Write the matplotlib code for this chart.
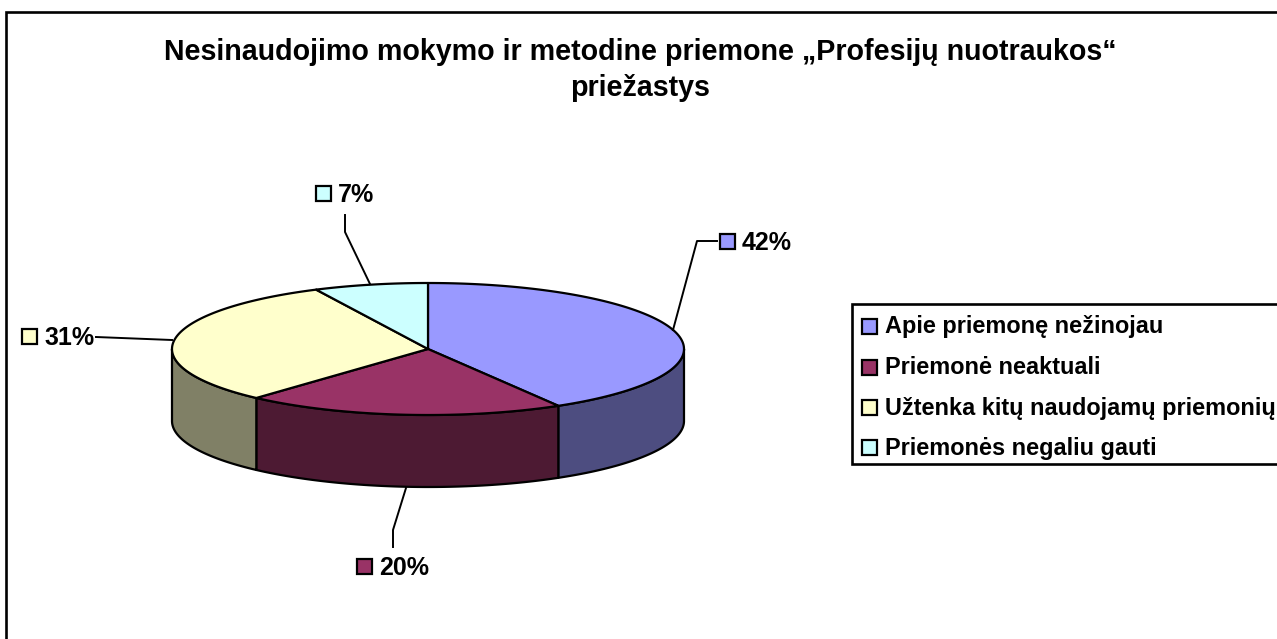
import numpy as np
import matplotlib
matplotlib.use("Agg")
import matplotlib.pyplot as plt
from matplotlib.patches import Rectangle

plt.rcParams['font.family'] = ['Liberation Sans', 'DejaVu Sans']
plt.rcParams['font.weight'] = 'bold'

title = "Nesinaudojimo mokymo ir metodine priemone „Profesijų nuotraukos“\npriežastys"
categories = ["Apie priemonę nežinojau", "Priemonė neaktuali",
              "Užtenka kitų naudojamų priemonių", "Priemonės negaliu gauti"]
values = [41.5, 20.2, 31.1, 7.2]
top_colors = ["#9999FF", "#993366", "#FFFFCC", "#CCFFFF"]
side_colors = ["#4D4D80", "#4D1A33", "#808066", "#668080"]

W, H = 1277, 639
fig = plt.figure(figsize=(W / 100, H / 100), dpi=100, facecolor="white")
ax = fig.add_axes([0, 0, 1, 1])
ax.set_xlim(0, W)
ax.set_ylim(H, 0)
ax.axis("off")

LW = 1.6
cx, cy, rx, ry, depth = 428, 349, 256, 66, 72

# outer chart frame (right and bottom edges fall outside the picture)
ax.plot([6, 6, W + 5], [H + 5, 12, 12], color="black", lw=1.9, solid_joinstyle="miter")


def pt(theta):
    return cx + rx * np.cos(theta), cy + ry * np.sin(theta)


fractions = np.array(values) / sum(values)
edges = np.deg2rad(-90 + 360 * np.concatenate([[0], np.cumsum(fractions)]))

# side walls: only the part of each slice on the front half of the rim
for i, col in enumerate(side_colors):
    a, b = max(edges[i], 0), min(edges[i + 1], np.pi)
    if b <= a:
        continue
    t = np.linspace(a, b, 120)
    x, y = pt(t)
    ax.fill(np.r_[x, x[::-1]], np.r_[y, y[::-1] + depth], facecolor=col,
            edgecolor="black", lw=LW, joinstyle="round", zorder=2)

# top faces
for i, col in enumerate(top_colors):
    t = np.linspace(edges[i], edges[i + 1], 160)
    x, y = pt(t)
    ax.fill(np.r_[cx, x], np.r_[cy, y], facecolor=col, edgecolor="black",
            lw=LW, joinstyle="round", zorder=3)

ax.text(640, 70, title, ha="center", va="center", fontsize=20.6, fontweight="bold",
        linespacing=1.38, color="black", zorder=5)

# data labels with leader lines
label_layout = [
    ((720, 241), [(673, 330), (697, 241), (717, 241)]),
    ((357, 566), [(406, 488), (393, 530), (393, 547)]),
    ((22, 336), [(172, 340), (96, 337)]),
    ((316, 193), [(370, 284), (345, 232), (345, 215)]),
]
for (lab, col, v) in zip(label_layout, top_colors, values):
    (mx, my), path = lab
    px, py = zip(*path)
    ax.plot(px, py, color="black", lw=1.4, zorder=4)
    ax.add_patch(Rectangle((mx, my - 7), 15, 15, facecolor=col, edgecolor="black",
                           lw=LW, zorder=5))
    ax.text(mx + 22, my + 2, f"{round(v)}%", ha="left", va="center", fontsize=18,
            fontweight="bold", zorder=5)

# legend box (runs off the right edge)
ax.plot([W + 5, 852, 852, W + 5], [304, 304, 464, 464], color="black", lw=1.9,
        solid_joinstyle="miter", zorder=4)
for yy, name, col in zip([326, 367, 407, 447], categories, top_colors):
    ax.add_patch(Rectangle((862, yy - 7), 14.5, 14.5, facecolor=col, edgecolor="black",
                           lw=LW, zorder=5))
    ax.text(885, yy + 1, name, ha="left", va="center", fontsize=16.9,
            fontweight="bold", zorder=5)

fig.savefig("out.png", dpi=100)
